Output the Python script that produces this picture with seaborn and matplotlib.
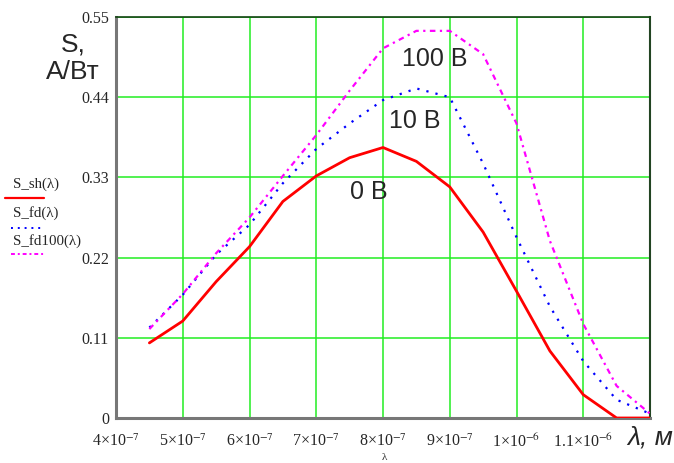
import numpy as np
import pandas as pd
import matplotlib
matplotlib.use("Agg")
import matplotlib.pyplot as plt
import seaborn as sns
from matplotlib.lines import Line2D

# Data (wavelength in metres, responsivity in A/W)
wavelength = [4.5e-7, 5.0e-7, 5.5e-7, 6.0e-7, 6.5e-7, 7.0e-7, 7.5e-7, 8.0e-7,
              8.5e-7, 9.0e-7, 9.5e-7, 1.0e-6, 1.05e-6, 1.1e-6, 1.15e-6, 1.2e-6]
s_sh = [0.103, 0.133, 0.187, 0.235, 0.297, 0.332, 0.357, 0.371,
        0.352, 0.317, 0.255, 0.174, 0.092, 0.032, 0.0, 0.0]
s_fd = [0.124, 0.169, 0.224, 0.265, 0.322, 0.369, 0.404, 0.436,
        0.452, 0.440, 0.349, 0.248, 0.153, 0.078, 0.025, 0.006]
s_fd100 = [0.122, 0.170, 0.226, 0.275, 0.332, 0.388, 0.449, 0.507,
           0.531, 0.531, 0.499, 0.404, 0.243, 0.129, 0.044, 0.006]

series_names = ["S_sh(λ)", "S_fd(λ)", "S_fd100(λ)"]
annotations = ["0 В", "10 В", "100 В"]
x_ticks = [4e-7, 5e-7, 6e-7, 7e-7, 8e-7, 9e-7, 1e-6, 1.1e-6]
x_tick_labels = ["4×10$^{-7}$", "5×10$^{-7}$", "6×10$^{-7}$", "7×10$^{-7}$",
                 "8×10$^{-7}$", "9×10$^{-7}$", "1×10$^{-6}$", "1.1×10$^{-6}$"]
y_ticks = [0, 0.11, 0.22, 0.33, 0.44, 0.55]
y_tick_labels = ["0", "0.11", "0.22", "0.33", "0.44", "0.55"]

sns.set_style("white")
plt.rcParams["mathtext.fontset"] = "stix"
plt.rcParams["font.family"] = ["Liberation Serif", "DejaVu Serif"]

fig = plt.figure(figsize=(6.74, 4.63), dpi=100)
ax = fig.add_axes([116 / 674, 1 - 418 / 463, (650 - 116) / 674, (418 - 17) / 463])

grid_color = "#22ee22"
for xv in x_ticks[1:]:
    ax.axvline(xv, color=grid_color, lw=1.1, zorder=0)
for yv in y_ticks[1:]:
    ax.axhline(yv, color=grid_color, lw=1.1, zorder=0)

df = pd.DataFrame({"x": wavelength, "sh": s_sh, "fd": s_fd, "fd100": s_fd100})
sns.lineplot(data=df, x="x", y="sh", ax=ax, color="#ff0000", lw=2.0, zorder=3)
sns.lineplot(data=df, x="x", y="fd", ax=ax, color="#0000ff", lw=1.6,
             linestyle=(0, (1, 3.2)), zorder=3)
sns.lineplot(data=df, x="x", y="fd100", ax=ax, color="#ff00ff", lw=1.6,
             linestyle=(0, (2.5, 2, 1, 2)), zorder=3)

ax.set_xlim(4e-7, 1.2e-6)
ax.set_ylim(0, 0.55)
ax.set_xticks(x_ticks)
ax.set_xticklabels(x_tick_labels, fontsize=11.5)
ax.set_yticks(y_ticks)
ax.set_yticklabels(y_tick_labels, fontsize=11.5)
ax.tick_params(axis="y", length=4, width=1, color="#666666", pad=1)
ax.tick_params(axis="x", length=0, pad=11)
ax.set_xlabel("")
ax.set_ylabel("")

for side in ["left", "bottom"]:
    ax.spines[side].set_color("#777777")
    ax.spines[side].set_linewidth(2.2)
ax.spines["top"].set_color("#114411")
ax.spines["top"].set_linewidth(1.2)
ax.spines["right"].set_color("#224422")
ax.spines["right"].set_linewidth(1.5)

# curve labels
sans = ["Liberation Sans", "DejaVu Sans"]
ax.text(8.77e-7, 0.493, annotations[2], fontsize=18, family=sans, ha="center", va="center")
ax.text(8.47e-7, 0.407, annotations[1], fontsize=18, family=sans, ha="center", va="center")
ax.text(7.78e-7, 0.310, annotations[0], fontsize=18, family=sans, ha="center", va="center")

# axis titles
fig.text(73 / 674, 1 - 58 / 463, "S,\nA/Вт", fontsize=19, family=sans,
         ha="center", va="center", linespacing=1.2)
fig.text(650 / 674, 1 - 438 / 463, "λ, м", fontsize=19, family=sans, style="italic",
         ha="center", va="center")
fig.text(384 / 674, 1 - 457 / 463, "λ", fontsize=8, ha="center", va="center")

# legend at left, outside the plot
leg_items = [
    (series_names[0], "#ff0000", "-", 1.6, 184, 198, 5),
    (series_names[1], "#0000ff", (0, (1, 2.5)), 1.4, 213, 228, 11),
    (series_names[2], "#ff00ff", (0, (2, 1.5, 1, 1.5)), 1.4, 241, 254, 11),
]
for name, col, ls, lw, ty, ly, lx in leg_items:
    fig.text(13 / 674, 1 - ty / 463, name, fontsize=10.8, ha="left", va="center")
    fig.add_artist(Line2D([lx / 674, 44 / 674], [1 - ly / 463, 1 - ly / 463],
                          color=col, linestyle=ls, lw=lw, transform=fig.transFigure))

fig.savefig("out.png", dpi=100)
